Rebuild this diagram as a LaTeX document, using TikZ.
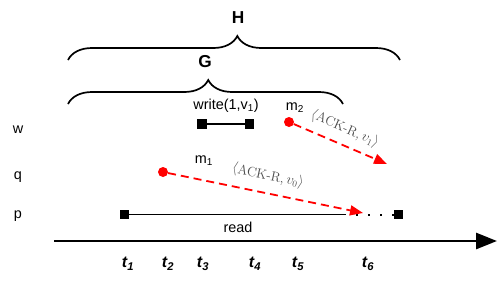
\documentclass[tikz,border=0pt]{standalone}
\usepackage{amsmath}
\usepackage{fontspec}
\setsansfont{Liberation Sans}
\usepackage{tikz}
\usetikzlibrary{positioning, arrows.meta, decorations.pathreplacing}

\begin{document}
\begin{tikzpicture}[x=1pt, y=-1pt]
\tikzset{
    every node/.style={font=\sffamily},
    tick/.style={fill, minimum size=9.5pt, inner sep=0pt},
    msgdot/.style={circle, fill=red, minimum size=10pt, inner sep=0pt},
    msg/.style={red, line width=1.8pt, dash pattern=on 8pt off 5pt, -{Triangle[length=13pt,width=10pt]}},
    ack/.style={black!70, font=\fontsize{13.5}{16}\selectfont, inner sep=1pt},
    lbl/.style={font=\sffamily\Large},
    tlabel/.style={font=\sffamily\fontsize{16}{18}\selectfont\bfseries\itshape},
    grpname/.style={font=\sffamily\LARGE\bfseries},
    grp/.style={line width=1.7pt, decorate, decoration={brace, amplitude=24pt, aspect=0.51}}
}
\useasboundingbox (0,0) rectangle (498,285);

% braces
\draw[grp] (68,60) -- (400,60);
\node[grpname] (H) at (238,18) {H};
\draw[grp] (68,104) -- (343,104);
\node[grpname] (G) at (205,62) {G};

% processes
\node[lbl] (w) at (18,130) {w};
\node[lbl] (q) at (18,177) {q};
\node[lbl] (p) at (18,216) {p};

% write on w
\node[tick] (ws) at (202,124) {};
\node[tick] (we) at (249.5,124) {};
\draw[line width=1.6pt] (ws) -- (we);
\node[lbl] (wlab) at (226,106) {write(1,v\textsubscript{1})};

% read on p
\node[tick] (rs) at (124.5,214.5) {};
\node[tick] (re) at (398.5,214.5) {};
\coordinate (rm) at (346,214.5);
\draw[line width=1.6pt] (rs) -- (rm);
\draw[line width=2pt, dash pattern=on 2pt off 10pt, dash phase=-10pt] (rm) -- (re);
\node[lbl] (rlab) at (238,227) {read};

% messages
\node[msgdot] (m1) at (163,172) {};
\coordinate (m1end) at (363,213);
\draw[msg] (m1) -- (m1end);
\node[lbl] (m1lab) at (204,161) {m\textsubscript{1}};
\node[ack, rotate=-12] (a1) at (268,176) {$\langle\textrm{ACK-R}, v_0\rangle$};

\node[msgdot] (m2) at (289,122) {};
\coordinate (m2end) at (387,164);
\draw[msg] (m2) -- (m2end);
\node[lbl] (m2lab) at (295,108) {m\textsubscript{2}};
\node[ack, rotate=-24] (a2) at (345,129) {$\langle\textrm{ACK-R}, v_1\rangle$};

% time axis
\coordinate (ax0) at (54,241);
\coordinate (ax1) at (497,241);
\draw[line width=2.8pt, -{Triangle[length=21pt,width=16pt]}] (ax0) -- (ax1);

\foreach \i/\x in {1/128, 2/168, 3/203, 4/255, 5/298, 6/368}
    \node[tlabel] (t\i) at (\x,264) {t\textsubscript{\i}};
\end{tikzpicture}
\end{document}
